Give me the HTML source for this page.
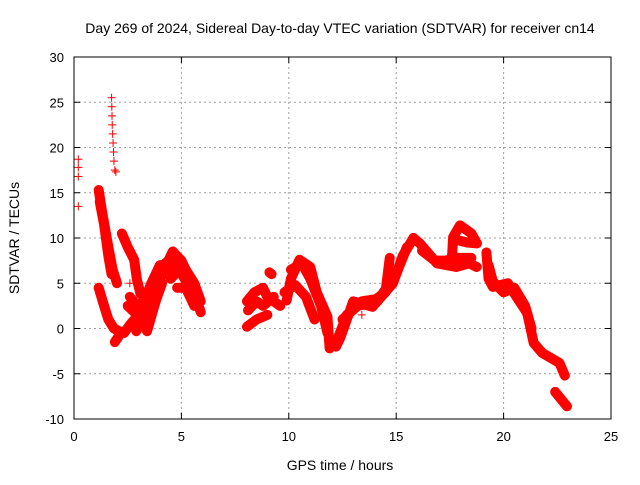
<!DOCTYPE html>
<html><head><meta charset="utf-8"><style>
body{margin:0;background:#fff;width:640px;height:480px;overflow:hidden}
svg{font-family:"Liberation Sans",sans-serif;font-size:13px}
</style></head><body>
<svg id="chart" width="640" height="480">
<text x="340" y="33" text-anchor="middle" font-size="14">Day 269 of 2024, Sidereal Day-to-day VTEC variation (SDTVAR) for receiver cn14</text>
<text x="340" y="470" text-anchor="middle" font-size="14">GPS time / hours</text>
<text transform="translate(19,238) rotate(-90)" text-anchor="middle" font-size="14">SDTVAR / TECUs</text>
<g id="grid"></g><g id="marks"></g><g id="axes"></g>
</svg>
<script>
const xTicks=[0,5,10,15,20,25];
const yTicks=[-10,-5,0,5,10,15,20,25,30];
const seriesScatter=[[0.2,13.5],[0.2,16.8],[0.2,17.8],[0.2,18.7],[1.75,25.5],[1.76,24.5],[1.77,23.5],[1.78,22.5],[1.8,21.5],[1.82,20.5],[1.84,19.5],[1.86,18.5],[1.9,17.5],[1.95,17.3],[2.6,5],[2.6,3.5],[2.6,2.5],[11.5,1],[13.4,1.5]];
const arcC=[[1.15,15.3],[1.3,13],[1.45,11],[1.6,9],[1.8,6.5],[2.0,5]];
const arcC2=[[1.2,14],[1.4,11.5],[1.6,8],[1.75,6]];
const arcD=[[1.15,4.5],[1.4,2.5],[1.6,1],[1.86,0],[2.1,-0.3],[2.33,-0.5],[2.6,0.4],[2.93,1.3]];
const arcD2=[[1.9,-1.5],[2.1,-0.8]];
const arcE=[[2.23,10.5],[2.5,9],[2.8,7.6],[2.93,5.4],[3.1,3.8]];
const arcE2=[[2.5,2.5],[2.9,1.6],[3.2,3]];
const arcF=[[2.9,-0.3],[3.3,1.5],[3.7,4],[4.2,6.5],[4.6,8.5]];
const arcF2=[[2.6,3.5],[3.1,2],[3.6,5],[4.0,7]];
const arcF3=[[3.4,-0.3],[3.8,3],[4.1,5]];
const arcG=[[3.9,6.5],[4.4,7.5],[4.6,8.5],[5.0,7.5],[5.3,6],[5.6,4],[5.9,1.8]];
const arcG2=[[4.5,5.5],[4.9,6.5],[5.4,4.5],[5.8,3]];
const arcG3=[[4.3,6],[4.8,7.2],[5.2,6.5],[5.6,5],[5.9,3]];
const arcG4=[[4.8,4.5],[5.2,4.5],[5.6,2.5]];
const arcH=[[8.05,3],[8.4,4],[8.8,4.5],[9.0,3.5],[9.6,2.5]];
const arcH2=[[8.05,0.2],[8.5,1],[9.0,1.5]];
const arcH3=[[9.1,6.2],[9.2,6]];
const arcH4=[[8.1,2],[8.5,3],[8.8,2.5],[9.3,3.5]];
const arcI=[[9.9,3.1],[10.1,5.5],[10.5,7.6],[11,6.8],[11.3,4],[11.8,1.3],[11.9,-2.2]];
const arcI2=[[9.8,4],[10.3,4.8],[10.8,3.5],[11.2,1]];
const arcI3=[[10.1,6.5],[10.6,7.2],[11,5.5],[11.5,2.5],[11.8,-0.5]];
const arcJ=[[12.2,-2],[12.4,-1],[13,3],[13.9,2.4],[14.85,5],[15.3,8],[15.8,10]];
const arcJ2=[[12.5,1],[13.2,2.5],[13.8,2.8],[14.5,4],[14.7,7.8]];
const arcJ3=[[12.3,-1],[12.7,1.5],[13.4,3],[14.2,3.3],[15,6],[15.5,9]];
const arcK=[[15.8,10],[16.1,9.4],[16.9,7.2],[17.8,6.8],[18.4,7.2],[18.75,6.8]];
const arcK2=[[16.2,8.6],[16.8,7.5],[17.3,7.5],[17.8,7.8],[18.5,7.8]];
const arcKLoop=[[17.6,8],[17.65,10.1],[17.97,11.4],[18.5,10.5],[18.76,9.4],[18.3,9.5],[17.8,9.8]];
const arcL=[[19.2,8.4],[19.3,5.5],[19.5,4.6],[20.2,5],[20.6,3.5],[21.1,1.7],[21.4,-1.6],[21.8,-2.7],[22.6,-3.8],[22.85,-5.2]];
const arcL2=[[19.3,7],[19.5,5.2],[20,4],[20.5,4.5],[21,2.5],[21.3,0]];
const arcM=[[22.4,-7],[22.95,-8.6]];
const arcs=[arcC,arcC2,arcD,arcD2,arcE,arcE2,arcF,arcF2,arcF3,arcG,arcG2,arcG3,arcG4,arcH,arcH2,arcH3,arcH4,arcI,arcI2,arcI3,arcJ,arcJ2,arcJ3,arcK,arcK2,arcKLoop,arcL,arcL2,arcM];
const X0=74,X1=611,Y0=419,Y1=57,xmin=0,xmax=25,ymin=-10,ymax=30;
const sx=v=>X0+(v-xmin)/(xmax-xmin)*(X1-X0);
const sy=v=>Y0-(v-ymin)/(ymax-ymin)*(Y0-Y1);
const NS='http://www.w3.org/2000/svg';
function mk(t,a,p){const e=document.createElementNS(NS,t);for(const k in a)e.setAttribute(k,a[k]);p.appendChild(e);return e;}
const grid=document.getElementById('grid'),axes=document.getElementById('axes'),marks=document.getElementById('marks');
xTicks.forEach(t=>{
 if(t>xmin&&t<xmax){const g=mk('line',{x1:sx(t),x2:sx(t),y1:Y1,y2:Y0,stroke:'#a0a0a0','stroke-dasharray':'2,3'},grid);
 
 }
 mk('line',{x1:sx(t),x2:sx(t),y1:Y0,y2:Y0-6,stroke:'#000'},axes);
 mk('line',{x1:sx(t),x2:sx(t),y1:Y1,y2:Y1+6,stroke:'#000'},axes);
 const l=mk('text',{x:sx(t),y:Y0+22,'text-anchor':'middle'},axes);l.textContent=t;
 
 
});
yTicks.forEach(t=>{
 if(t>ymin&&t<ymax){const g=mk('line',{x1:X0,x2:X1,y1:sy(t),y2:sy(t),stroke:'#a0a0a0','stroke-dasharray':'2,3'},grid);
 
 }
 mk('line',{x1:X0,x2:X0+6,y1:sy(t),y2:sy(t),stroke:'#000'},axes);
 mk('line',{x1:X1,x2:X1-6,y1:sy(t),y2:sy(t),stroke:'#000'},axes);
 const l=mk('text',{x:X0-10,y:sy(t)+5,'text-anchor':'end'},axes);l.textContent=t;
 
 
});
const fr=mk('rect',{x:X0,y:Y1,width:X1-X0,height:Y0-Y1,fill:'none',stroke:'#000'},axes);


function plus(x,y){mk('path',{d:`M${x-4},${y}h8M${x},${y-4}v8`,stroke:'#f00','stroke-width':1},marks);}
arcs.forEach(a=>{
 const p=mk('polyline',{points:a.map(d=>sx(d[0])+','+sy(d[1])).join(' '),fill:'none',stroke:'#f00','stroke-width':10,'stroke-linejoin':'round','stroke-linecap':'round'},marks);
 
 
 a.forEach(d=>plus(sx(d[0]),sy(d[1])));
});
seriesScatter.forEach(d=>plus(sx(d[0]),sy(d[1])));
</script>
</body></html>
